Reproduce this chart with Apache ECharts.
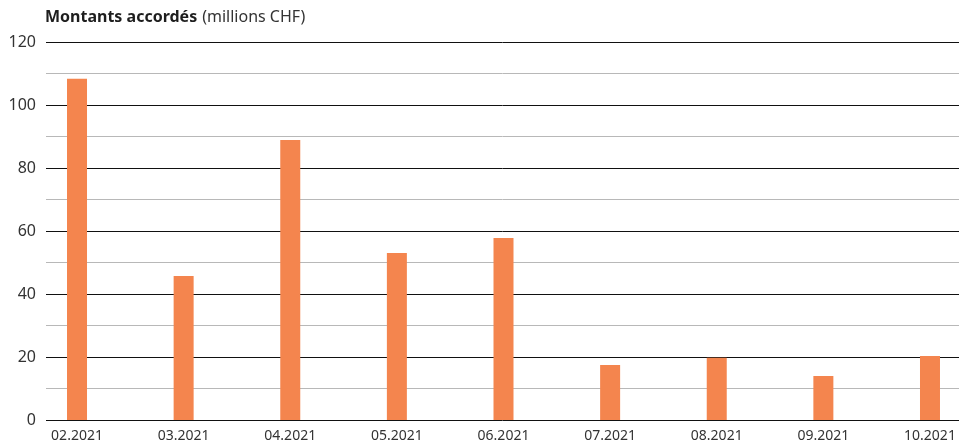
<!DOCTYPE html>
<html><head><meta charset="utf-8">
<script src="https://cdn.jsdelivr.net/npm/echarts@6/dist/echarts.min.js"></script>
<style>html,body{margin:0;padding:0;background:#fff}#c{width:959px;height:446px}</style>
</head><body><div id="c"></div>
<script>
const categories = ['02.2021','03.2021','04.2021','05.2021','06.2021','07.2021','08.2021','09.2021','10.2021'];
const values = [108.3, 45.7, 88.9, 53.0, 57.8, 17.5, 19.8, 14.0, 20.3];
const yTickLabels = [0, 20, 40, 60, 80, 100, 120];

const FONT = 'Noto Sans';
const chart = echarts.init(document.getElementById('c'), null, {renderer: 'canvas'});
chart.setOption({
  animation: false,
  title: {
    left: 45, top: 8, padding: 0,
    text: '{b|Montants accordés} {n|(millions CHF)}',
    textStyle: {
      rich: {
        b: {fontFamily: FONT, fontWeight: 'bold', fontSize: 16, color: '#1e1e1e'},
        n: {fontFamily: FONT, fontWeight: 'normal', fontSize: 16, color: '#333'}
      }
    }
  },
  grid: [
    {left: 23.7, right: -24.3, top: 42, bottom: 26, containLabel: false, outerBoundsMode: 'none'},
    {left: 46, right: 0, top: 42, bottom: 26, containLabel: false, outerBoundsMode: 'none'}
  ],
  xAxis: [
    {gridIndex: 0, type: 'category', data: categories,
     axisLine: {show: false}, axisTick: {show: false},
     axisLabel: {fontFamily: FONT, fontSize: 14, color: '#333', margin: 9}},
    {gridIndex: 1, type: 'value', show: false, min: 0, max: 1}
  ],
  yAxis: [
    {gridIndex: 0, type: 'value', min: 0, max: 120, interval: 10, show: false, splitLine: {show: false}},
    {gridIndex: 1, type: 'value', min: 0, max: 120, interval: 10,
     axisLine: {show: false}, axisTick: {show: false},
     axisLabel: {fontFamily: FONT, fontSize: 16, color: '#333', margin: 10,
       formatter: v => yTickLabels.includes(v) ? String(v) : ''},
     splitLine: {lineStyle: {color: ['#111', '#b8b8b8'], width: 1}}}
  ],
  series: [{
    type: 'bar', xAxisIndex: 0, yAxisIndex: 0,
    data: values, barWidth: 20,
    itemStyle: {color: '#F4854E'}, z: 5
  }]
});
</script></body></html>
